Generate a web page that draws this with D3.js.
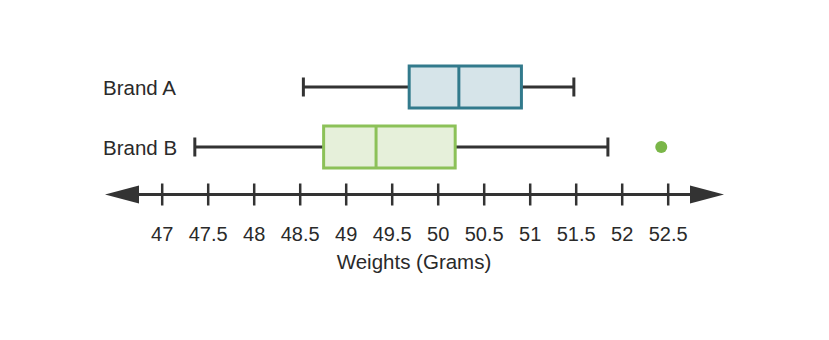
<!DOCTYPE html>
<html><head><meta charset="utf-8">
<script src="https://cdn.jsdelivr.net/npm/d3@7"></script>
<style>body{margin:0;background:#fff}svg{display:block}text{font-family:"Liberation Sans",Arial,sans-serif;fill:#2a2a2a}</style>
</head><body><svg id="c" width="829" height="340"></svg>
<script>
const categories = ["Brand A", "Brand B"];
const minVals = [48.54, 47.36];
const q1Vals = [49.69, 48.76];
const medianVals = [50.23, 49.33];
const q3Vals = [50.91, 50.19];
const maxVals = [51.48, 51.85];
const outliers = [[], [52.43]];
const tickValues = [47, 47.5, 48, 48.5, 49, 49.5, 50, 50.5, 51, 51.5, 52, 52.5];
const axisTitle = "Weights (Grams)";
const strokeColors = ["#327a8c", "#8cc158"];
const fillColors = ["#d6e4e9", "#e6f0da"];
const outlierColor = "#7ab648";

const svg = d3.select("#c");
const x = d3.scaleLinear().domain([47, 52.5]).range([161.7, 667.7]);
const y = d3.scaleBand().domain(categories).range([66, 168]).paddingInner(0.3).paddingOuter(0);
const dark = "#333";

// axis line with arrows
const axisY = 194.5;
svg.append("line").attr("x1", 130).attr("x2", 700).attr("y1", axisY).attr("y2", axisY)
  .attr("stroke", dark).attr("stroke-width", 3);
svg.append("path").attr("d", `M105,${axisY} L139,${axisY-9} L139,${axisY+9} Z`).attr("fill", dark);
svg.append("path").attr("d", `M724,${axisY} L690,${axisY-9} L690,${axisY+9} Z`).attr("fill", dark);

const ax = d3.axisBottom(x).tickValues(tickValues).tickSize(0).tickFormat(d3.format(""));
const g = svg.append("g").attr("transform", `translate(0,${axisY})`).call(ax);
g.select(".domain").remove();
g.selectAll(".tick line").attr("y1", -11).attr("y2", 11).attr("stroke", dark).attr("stroke-width", 2.5);
g.selectAll(".tick text").attr("y", 46.5).attr("dy", 0).attr("font-size", 20).attr("fill", "#2a2a2a")
  .style("font-family", '"Liberation Sans",Arial,sans-serif');

svg.append("text").attr("x", 414).attr("y", 269).attr("text-anchor", "middle")
  .attr("font-size", 20.5).text(axisTitle);

categories.forEach((c, i) => {
  const top = y(c), h = y.bandwidth(), cy = top + h / 2;
  svg.append("text").attr("x", 103).attr("y", cy + 7.5).attr("font-size", 20.5).text(c);
  // whiskers
  svg.append("line").attr("x1", x(minVals[i])).attr("x2", x(q1Vals[i])).attr("y1", cy).attr("y2", cy)
    .attr("stroke", dark).attr("stroke-width", 3);
  svg.append("line").attr("x1", x(q3Vals[i])).attr("x2", x(maxVals[i])).attr("y1", cy).attr("y2", cy)
    .attr("stroke", dark).attr("stroke-width", 3);
  [minVals[i], maxVals[i]].forEach(v => {
    svg.append("line").attr("x1", x(v)).attr("x2", x(v)).attr("y1", cy - 9.5).attr("y2", cy + 9.5)
      .attr("stroke", dark).attr("stroke-width", 3);
  });
  svg.append("rect").attr("x", x(q1Vals[i])).attr("y", top).attr("width", x(q3Vals[i]) - x(q1Vals[i]))
    .attr("height", h).attr("fill", fillColors[i]).attr("stroke", strokeColors[i]).attr("stroke-width", 3);
  svg.append("line").attr("x1", x(medianVals[i])).attr("x2", x(medianVals[i])).attr("y1", top).attr("y2", top + h)
    .attr("stroke", strokeColors[i]).attr("stroke-width", 3);
  outliers[i].forEach(v => {
    svg.append("circle").attr("cx", x(v)).attr("cy", cy).attr("r", 6).attr("fill", outlierColor);
  });
});
</script></body></html>
